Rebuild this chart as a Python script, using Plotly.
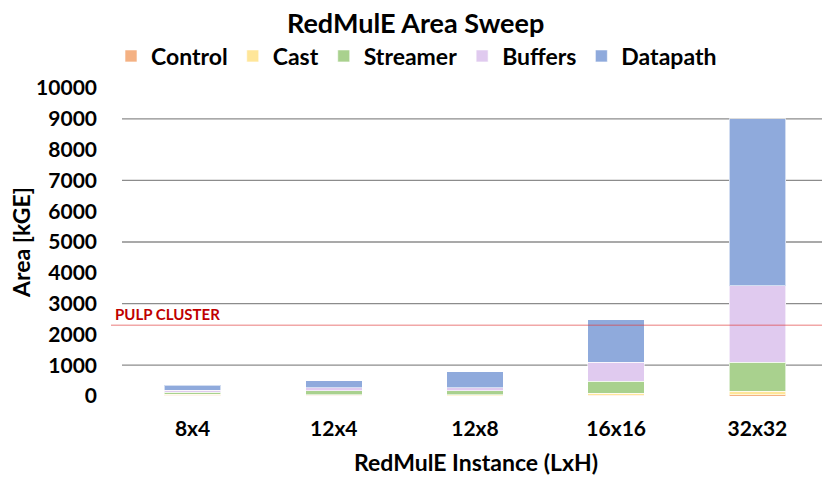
import plotly.graph_objects as go

categories = ["8x4", "12x4", "12x8", "16x16", "32x32"]
control = [30, 20, 15, 30, 40]
cast = [30, 25, 20, 60, 120]
streamer = [65, 130, 130, 390, 943]
buffers = [65, 85, 98, 608, 2470]
datapath = [160, 240, 520, 1385, 5430]
pulp_cluster = 2300
series = [
    ("Control", control, "#F4B183"),
    ("Cast", cast, "#FFE699"),
    ("Streamer", streamer, "#A9D18E"),
    ("Buffers", buffers, "#E0CAEF"),
    ("Datapath", datapath, "#8FAADC"),
]
y_ticks = list(range(0, 10001, 1000))
grid_vals = [1000, 3000, 5000, 7000, 9000]

FONT = "Lato"
W, H = 830, 478
ML, MT, MR, MB = 114, 80, 10, 90
PW, PH = W - ML - MR, H - MT - MB

fig = go.Figure()
for name, vals, color in series:
    fig.add_trace(go.Bar(
        name=f"<b>{name}</b>", x=categories, y=vals,
        marker=dict(color=color, line=dict(color="rgba(255,255,255,0.6)", width=1)),
    ))

shapes = []
for g in grid_vals:
    shapes.append(dict(type="line", xref="paper", yref="y", x0=0, x1=1, y0=g, y1=g,
                       line=dict(color="#8C8C8C", width=1.3), layer="below"))
shapes.append(dict(type="line", xref="paper", yref="y", x0=-11 / PW, x1=1,
                   y0=pulp_cluster, y1=pulp_cluster,
                   line=dict(color="rgba(225,60,60,0.45)", width=1.5), layer="above"))

fig.update_layout(
    width=W, height=H,
    barmode="stack", bargap=0.6,
    plot_bgcolor="white", paper_bgcolor="white",
    margin=dict(l=ML, r=MR, t=MT, b=MB),
    font=dict(family=FONT, size=21, color="black"),
    legend=dict(orientation="h", x=-11 / PW, xanchor="left",
                y=1 + (MT - 48) / PH, yanchor="middle",
                font=dict(size=23, family=FONT), traceorder="normal",
                itemwidth=30, tracegroupgap=0),
    xaxis=dict(tickfont=dict(size=21), showgrid=False, showline=False, automargin=False,
               ticks="outside", ticklen=14, tickcolor="rgba(0,0,0,0)",
               tickprefix="<b>", ticksuffix="</b>"),
    yaxis=dict(range=[0, 10000], tickvals=y_ticks,
               ticktext=[f"<b>{v}</b>" for v in y_ticks], tickfont=dict(size=21),
               showgrid=False, zeroline=False, showline=False, automargin=False,
               ticklabelstandoff=24),
    shapes=shapes,
    annotations=[
        dict(text="<b>RedMulE Area Sweep</b>", xref="paper", yref="paper",
             x=(407 - ML) / PW, y=1 + (MT - 15) / PH,
             xanchor="center", yanchor="middle", showarrow=False,
             font=dict(size=27, family=FONT)),
        dict(text="<b>PULP CLUSTER</b>", xref="paper", yref="y",
             x=-9 / PW, y=pulp_cluster, xanchor="left", yanchor="bottom",
             showarrow=False, font=dict(color="#C00000", size=15, family=FONT)),
        dict(text="<b>RedMulE Instance (LxH)</b>", xref="paper", yref="paper",
             x=(476 - 8 - ML) / PW, y=-(454 - (H - MB)) / PH,
             xanchor="center", yanchor="middle", showarrow=False,
             font=dict(size=23, family=FONT)),
        dict(text="<b>Area [kGE]</b>", xref="paper", yref="paper", textangle=-90,
             x=(13 - ML) / PW, y=(H - MB - 235) / PH,
             xanchor="center", yanchor="middle", showarrow=False,
             font=dict(size=23, family=FONT)),
    ],
)
fig.write_html("out.html")
